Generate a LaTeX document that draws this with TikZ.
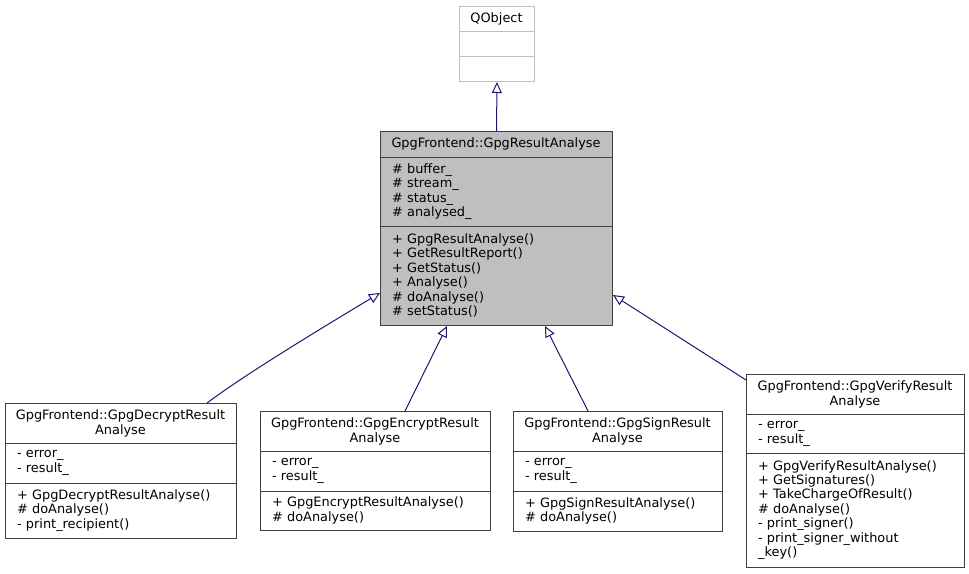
\documentclass[tikz,border=0pt]{standalone}
\usepackage{fontspec}
\setmainfont{DejaVu Sans}
\usetikzlibrary{arrows.meta,calc}
\definecolor{edgeblue}{HTML}{191970}
\definecolor{boxgray}{HTML}{BFBFBF}
\definecolor{bord}{HTML}{404040}
\tikzset{
  cls/.style={draw=bord, line width=1pt, fill=white, rectangle, inner sep=0pt, anchor=north west},
  sep/.style={draw=bord, line width=1pt},
  txt/.style={inner sep=0pt, align=left, anchor=west, font=\fontsize{12.9}{14.4}\selectfont},
  ttl/.style={inner sep=0pt, align=center, anchor=center, font=\fontsize{12.9}{14.4}\selectfont},
  inh/.style={draw=edgeblue, line width=1pt, -{Triangle[open, length=11pt, width=10pt, fill=white]}}
}
\begin{document}
\begin{tikzpicture}[x=1pt, y=-1pt]
\useasboundingbox (0,0) rectangle (969,573);
% QObject
\node[cls, draw=boxgray, minimum width=75pt, minimum height=75pt] (qobj) at (459,6) {};
\draw[draw=boxgray, line width=1pt] (459,31) -- (534,31) (459,56) -- (534,56);
\node[ttl] (qobjt) at (496.5,19) {QObject};
% Main
\node[cls, fill=boxgray, minimum width=232pt, minimum height=194pt] (main) at (380,131) {};
\draw[sep] (380,157) -- (612,157) (380,226) -- (612,226);
\node[ttl] (maint) at (496,144) {GpgFrontend::GpgResultAnalyse};
\node[txt] (maina) at (392,191.5) {\# buffer\_\\\# stream\_\\\# status\_\\\# analysed\_};
\node[txt] (mainm) at (392,275.5) {+ GpgResultAnalyse()\\+ GetResultReport()\\+ GetStatus()\\+ Analyse()\\\# doAnalyse()\\\# setStatus()};
% Decrypt
\node[cls, minimum width=231pt, minimum height=135pt] (dec) at (5,403) {};
\draw[sep] (5,443) -- (236,443) (5,483) -- (236,483);
\node[ttl] (dect) at (120.5,423.5) {GpgFrontend::GpgDecryptResult\\Analyse};
\node[txt] (deca) at (17,463) {- error\_\\- result\_};
\node[txt] (decm) at (17,510.5) {+ GpgDecryptResultAnalyse()\\\# doAnalyse()\\- print\_recipient()};
% Encrypt
\node[cls, minimum width=230pt, minimum height=119pt] (enc) at (260,411) {};
\draw[sep] (260,451) -- (490,451) (260,491) -- (490,491);
\node[ttl] (enct) at (375,431.5) {GpgFrontend::GpgEncryptResult\\Analyse};
\node[txt] (enca) at (272,471) {- error\_\\- result\_};
\node[txt] (encm) at (272,510.5) {+ GpgEncryptResultAnalyse()\\\# doAnalyse()};
% Sign
\node[cls, minimum width=209pt, minimum height=120pt] (sig) at (513,411) {};
\draw[sep] (513,451) -- (722,451) (513,491) -- (722,491);
\node[ttl] (sigt) at (617.5,431.5) {GpgFrontend::GpgSignResult\\Analyse};
\node[txt] (siga) at (525,471) {- error\_\\- result\_};
\node[txt] (sigm) at (525,511) {+ GpgSignResultAnalyse()\\\# doAnalyse()};
% Verify
\node[cls, minimum width=218pt, minimum height=193pt] (ver) at (746,374) {};
\draw[sep] (746,414) -- (964,414) (746,453) -- (964,453);
\node[ttl] (vert) at (855,394.5) {GpgFrontend::GpgVerifyResult\\Analyse};
\node[txt] (vera) at (758,434) {- error\_\\- result\_};
\node[txt] (verm) at (758,510) {+ GpgVerifyResultAnalyse()\\+ GetSignatures()\\+ TakeChargeOfResult()\\\# doAnalyse()\\- print\_signer()\\- print\_signer\_without\\\_key()};
% Edges
\draw[inh] (main.north) -- (qobj.south);
\draw[inh] ([xshift=202pt]dec.north west) .. controls (235,382) and (285,350) .. ([yshift=-162pt]main.north west);
\draw[inh] ([xshift=145pt]enc.north west) -- ([xshift=67pt]main.south west);
\draw[inh] ([xshift=75pt]sig.north west) -- ([xshift=165pt]main.south west);
\draw[inh] ([yshift=-6pt]ver.north west) -- ([yshift=-164pt]main.north east);
\end{tikzpicture}
\end{document}
